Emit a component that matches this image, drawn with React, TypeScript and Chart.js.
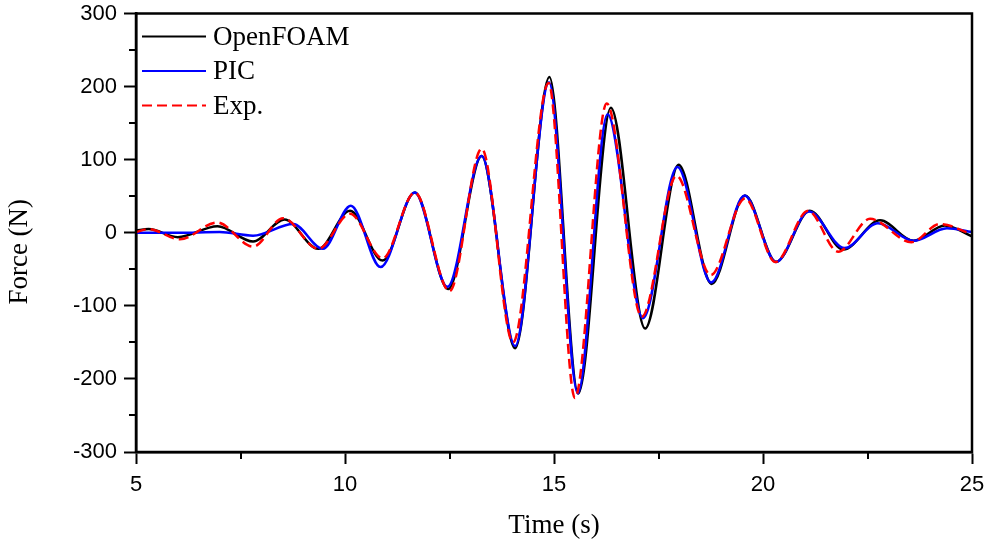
import React, { useEffect, useRef } from "react";
import { Chart, registerables } from "chart.js";

Chart.register(...registerables);

// OpenFOAM (black)
const openfoamT = [5.0, 5.3, 6.0, 6.95, 7.8, 8.55, 9.36, 10.12, 10.9, 11.67, 12.47, 13.27, 14.07, 14.89, 15.58, 16.36, 17.18, 17.98, 18.77, 19.57, 20.31, 21.12, 21.92, 22.8, 23.6, 24.35, 25.0];
const openfoamF = [3, 5, -6, 9, -12, 18, -22, 30, -38, 55, -77, 105, -158, 213, -220, 171, -131, 93, -70, 51, -40, 30, -23, 17, -11, 10, -5];

// PIC (blue)
const picT = [5.0, 6.0, 7.0, 7.8, 8.76, 9.47, 10.14, 10.85, 11.67, 12.45, 13.27, 14.07, 14.88, 15.57, 16.28, 17.13, 17.95, 18.76, 19.56, 20.31, 21.1, 21.95, 22.75, 23.6, 24.4, 25.0];
const picF = [0, 0, 1, -4, 12, -22, 37, -47, 55, -74, 105, -155, 206, -220, 162, -117, 90, -68, 51, -40, 29, -21, 13, -11, 6, 1];

// Exp. (red dashed)
const expT = [5.0, 5.3, 6.05, 6.94, 7.8, 8.52, 9.36, 10.12, 10.9, 11.67, 12.5, 13.27, 14.02, 14.87, 15.5, 16.26, 17.1, 17.93, 18.75, 19.57, 20.3, 21.08, 21.8, 22.56, 23.55, 24.23, 25.0];
const expF = [1, 5, -9, 14, -19, 20, -22, 26, -35, 55, -80, 115, -150, 205, -226, 177, -115, 78, -58, 47, -40, 30, -26, 19, -13, 12, -2];

const xMajorTicks = [5, 10, 15, 20, 25];
const xMinorTicks = [7.5, 12.5, 17.5, 22.5];
const yMajorTicks = [-300, -200, -100, 0, 100, 200, 300];
const yMinorTicks = [-250, -150, -50, 50, 150, 250];

const seriesNames = ["OpenFOAM", "PIC", "Exp."];
const xTitle = "Time (s)";
const yTitle = "Force (N)";

const SERIF = "'Liberation Serif', 'Times New Roman', serif";
const SANS = "'Liberation Sans', Arial, sans-serif";

const toPoints = (t: number[], f: number[]) => t.map((x, i) => ({ x, y: f[i] }));

const framePlugin = {
  id: "frameAndMinor",
  afterDraw(chart: any) {
    const ctx = chart.ctx;
    const { left, right, top, bottom } = chart.chartArea;
    const xs = chart.scales.x;
    const ys = chart.scales.y;
    ctx.save();
    ctx.strokeStyle = "#000";
    ctx.lineWidth = 2;
    xMinorTicks.forEach((v) => {
      const px = Math.round(xs.getPixelForValue(v));
      ctx.beginPath();
      ctx.moveTo(px, bottom);
      ctx.lineTo(px, bottom + 7);
      ctx.stroke();
    });
    yMinorTicks.forEach((v) => {
      const py = Math.round(ys.getPixelForValue(v));
      ctx.beginPath();
      ctx.moveTo(left, py);
      ctx.lineTo(left - 7, py);
      ctx.stroke();
    });
    ctx.lineWidth = 2.5;
    ctx.strokeRect(left, top, right - left, bottom - top);

    // y axis title
    ctx.save();
    ctx.translate(20, (top + bottom) / 2 + 19);
    ctx.rotate(-Math.PI / 2);
    ctx.font = `27px ${SERIF}`;
    ctx.fillStyle = "#000";
    ctx.textAlign = "center";
    ctx.textBaseline = "middle";
    ctx.fillText(yTitle, 0, 0);
    ctx.restore();

    // legend
    const ds = chart.data.datasets;
    ctx.font = `27px ${SERIF}`;
    ctx.textBaseline = "middle";
    ctx.textAlign = "left";
    ctx.fillStyle = "#000";
    seriesNames.forEach((name, i) => {
      const d = ds.find((q: any) => q.label === name);
      const y = top + 23 + i * 34.5;
      ctx.beginPath();
      ctx.strokeStyle = d.borderColor;
      ctx.lineWidth = 2;
      ctx.setLineDash(d.borderDash || []);
      ctx.moveTo(left + 6, y);
      ctx.lineTo(left + 70, y);
      ctx.stroke();
      ctx.setLineDash([]);
      ctx.fillText(name, left + 77, y + 1);
    });
    ctx.restore();
  },
};

export default function App() {
  const ref = useRef<HTMLCanvasElement | null>(null);
  useEffect(() => {
    if (!ref.current) return;
    const chart = new Chart(ref.current, {
      type: "line",
      data: {
        datasets: [
          {
            label: "OpenFOAM",
            data: toPoints(openfoamT, openfoamF),
            borderColor: "#000000",
            borderWidth: 2.5,
            pointRadius: 0,
            cubicInterpolationMode: "monotone",
            order: 3,
          },
          {
            label: "PIC",
            data: toPoints(picT, picF),
            borderColor: "#0000ff",
            borderWidth: 2.5,
            pointRadius: 0,
            cubicInterpolationMode: "monotone",
            order: 2,
          },
          {
            label: "Exp.",
            data: toPoints(expT, expF),
            borderColor: "#ff0000",
            borderWidth: 2.5,
            borderDash: [10, 5],
            pointRadius: 0,
            cubicInterpolationMode: "monotone",
            order: 1,
          },
        ],
      } as any,
      options: {
        animation: false,
        responsive: true,
        maintainAspectRatio: false,
        layout: { padding: { top: 13.5, right: 12, left: 0, bottom: 0 } },
        plugins: { legend: { display: false }, tooltip: { enabled: false } },
        scales: {
          x: {
            type: "linear",
            min: 5,
            max: 25,
            afterBuildTicks: (s: any) => {
              s.ticks = xMajorTicks.map((v) => ({ value: v }));
            },
            afterFit: (s: any) => {
              s.height = 90;
              s.paddingLeft = 0;
              s.paddingRight = 0;
            },
            grid: { display: true, drawOnChartArea: false, drawTicks: true, tickLength: 12, tickWidth: 2, tickColor: "#000" },
            border: { display: true, color: "#000", width: 2.5 },
            ticks: { color: "#000", font: { family: SANS, size: 22 }, padding: 8, maxRotation: 0 },
            title: { display: true, text: xTitle, color: "#000", font: { family: SERIF, size: 27 }, padding: { top: 0, bottom: 0 } },
          },
          y: {
            type: "linear",
            min: -300,
            max: 300,
            afterBuildTicks: (s: any) => {
              s.ticks = yMajorTicks.map((v) => ({ value: v }));
            },
            afterFit: (s: any) => {
              s.width = 136;
              s.paddingTop = 0;
              s.paddingBottom = 0;
            },
            grid: { display: true, drawOnChartArea: false, drawTicks: true, tickLength: 12, tickWidth: 2, tickColor: "#000" },
            border: { display: true, color: "#000", width: 2.5 },
            ticks: { color: "#000", font: { family: SANS, size: 22 }, padding: 7 },
            title: { display: false },
          },
        },
      } as any,
      plugins: [framePlugin],
    });
    return () => chart.destroy();
  }, []);
  return (
    <div style={{ position: "fixed", left: 0, top: 0, width: 984, height: 542, background: "#fff" }}>
      <canvas ref={ref} />
    </div>
  );
}
